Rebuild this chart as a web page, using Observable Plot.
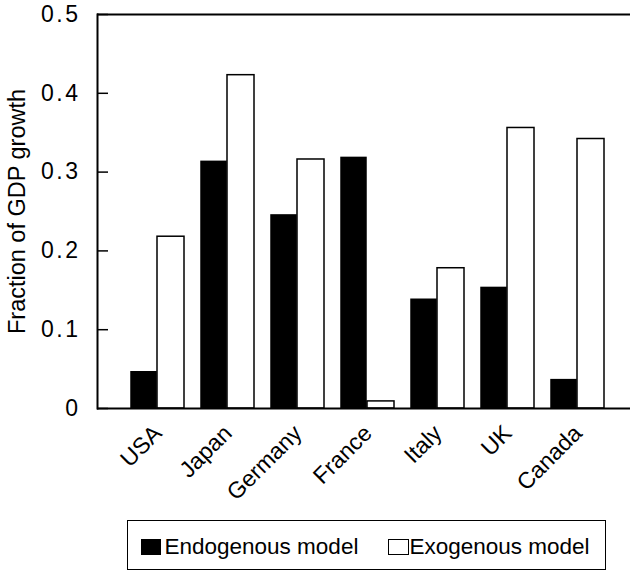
<!DOCTYPE html>
<html>
<head>
<meta charset="utf-8">
<script src="https://cdn.jsdelivr.net/npm/d3@7"></script>
<script src="https://cdn.jsdelivr.net/npm/@observablehq/plot@0.6"></script>
<style>
  body { margin: 0; background: #fff; font-family: "Liberation Sans", Arial, Helvetica, sans-serif; }
  #wrap { position: relative; width: 630px; height: 571px; overflow: hidden; }
  #chart { position: absolute; left: 0; top: 0; }
  #legend { position: absolute; left: 127px; top: 520px; width: 479px; height: 50px;
            border: 1.5px solid #000; box-sizing: border-box; }
  #legend .sw { position: absolute; box-sizing: border-box; }
  #legend .lab { position: absolute; font-size: 22.5px; line-height: 22.5px; white-space: nowrap; color: #000; }
</style>
</head>
<body>
<div id="wrap">
  <div id="chart"></div>
  <div id="legend"></div>
</div>
<script>
const countries = ["USA", "Japan", "Germany", "France", "Italy", "UK", "Canada"];
const endogenous = [0.046, 0.313, 0.245, 0.318, 0.138, 0.153, 0.036];
const exogenous  = [0.218, 0.423, 0.316, 0.009, 0.178, 0.356, 0.342];
const seriesNames = ["Endogenous model", "Exogenous model"];
const yTicks = [0, 0.1, 0.2, 0.3, 0.4, 0.5];
const yLabel = "Fraction of GDP growth";

const endoData = countries.map((c, i) => ({country: c, value: endogenous[i]}));
const exoData = countries.map((c, i) => ({country: c, value: exogenous[i]}));

const chart = Plot.plot({
  width: 630,
  height: 510,
  marginLeft: 97,
  marginRight: 0,
  marginTop: 14,
  marginBottom: 102,
  style: {fontFamily: "Liberation Sans, Arial, Helvetica, sans-serif", fontSize: "22px", background: "white", color: "black"},
  x: {domain: countries, range: [97, 637.7], paddingInner: 0.237, paddingOuter: 0.438, axis: null},
  y: {domain: [0, 0.5], axis: null},
  marks: [
    Plot.barY(endoData, {x: "country", y: "value", fill: "black", stroke: "black", strokeWidth: 1.5, insetRight: 28}),
    Plot.barY(exoData, {x: "country", y: "value", fill: "white", stroke: "black", strokeWidth: 1.5, insetLeft: 26}),
    Plot.ruleY([0], {stroke: "black", strokeWidth: 2}),
    Plot.ruleY([0.5], {stroke: "black", strokeWidth: 2}),
    Plot.frame({anchor: "left", stroke: "black", strokeWidth: 2}),
    Plot.axisY(yTicks, {tickSize: 11, dx: 11, tickPadding: 17, strokeWidth: 1.5, label: null, tickFormat: d => d === 0 ? "0" : d.toFixed(1), fontSize: 23}),
    Plot.axisX({tickSize: 0, tickRotate: -45, tickPadding: 21, label: null, fontSize: 23}),
    Plot.text([yLabel], {frameAnchor: "left", rotate: -90, dx: -80, textAnchor: "middle", fontSize: 23.5, fill: "black"})
  ]
});
document.getElementById("chart").appendChild(chart);
d3.select(chart).selectAll('g[aria-label="y-axis tick label"] text').style("letter-spacing", "2.5px");

const legend = document.getElementById("legend");
const items = [
  {sw: {left: 12.5, top: 17.5, width: 20, height: 16, background: "#000", border: "none"}, lab: {left: 36.5, top: 14.5}},
  {sw: {left: 259.5, top: 17.5, width: 21, height: 16, background: "#fff", border: "1.5px solid #000"}, lab: {left: 281.5, top: 14.5}}
];
items.forEach((it, i) => {
  const s = document.createElement("div");
  s.className = "sw";
  s.style.left = it.sw.left + "px"; s.style.top = it.sw.top + "px";
  s.style.width = it.sw.width + "px"; s.style.height = it.sw.height + "px";
  s.style.background = it.sw.background; s.style.border = it.sw.border;
  legend.appendChild(s);
  const t = document.createElement("div");
  t.className = "lab";
  t.style.left = it.lab.left + "px"; t.style.top = it.lab.top + "px";
  t.textContent = seriesNames[i];
  legend.appendChild(t);
});
</script>
</body>
</html>
